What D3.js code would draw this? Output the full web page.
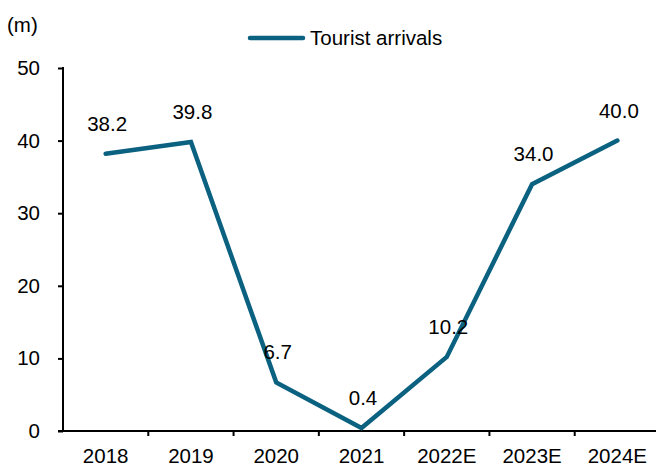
<!DOCTYPE html>
<html><head><meta charset="utf-8">
<script src="https://cdn.jsdelivr.net/npm/d3@7"></script>
<style>body{margin:0;background:#fff}svg{display:block}text{font-family:"Liberation Sans",Arial,sans-serif;fill:#000}</style>
</head><body>
<script>
const categories = ["2018","2019","2020","2021","2022E","2023E","2024E"];
const arrivals = [38.2, 39.8, 6.7, 0.4, 10.2, 34.0, 40.0];
const yTicks = [0,10,20,30,40,50];
const seriesName = "Tourist arrivals";
const unitLabel = "(m)";

const W=656,H=467, color="#0b6180", fs="20.5px";
const svg=d3.select("body").append("svg").attr("width",W).attr("height",H);
const x=d3.scaleBand().domain(categories).range([63,660]);
const y=d3.scaleLinear().domain([0,50]).range([431,68]);

const yAxis=svg.append("g").attr("transform","translate(63,0)")
  .call(d3.axisLeft(y).tickValues(yTicks).tickSize(5).tickPadding(18));
const xAxis=svg.append("g").attr("transform","translate(0,431)")
  .call(d3.axisBottom(x).tickSize(0).tickPadding(17));
svg.append("g").selectAll("line").data(categories.slice(1)).join("line")
  .attr("x1",d=>x(d)).attr("x2",d=>x(d)).attr("y1",431).attr("y2",436)
  .attr("stroke","#000").attr("stroke-width",2);
[yAxis,xAxis].forEach(g=>{
  g.selectAll(".domain,line").attr("stroke","#000").attr("stroke-width",2);
  g.selectAll("text").style("font-size",fs).attr("fill","#000");
});
xAxis.select(".domain").attr("d","M58,0H660");
yAxis.select(".domain").attr("d","M0,67V432");

const cx=d=>x(d)+x.bandwidth()/2;
svg.append("path").datum(categories.map((c,i)=>[cx(c),y(arrivals[i])]))
  .attr("d",d3.line()).attr("fill","none").attr("stroke",color)
  .attr("stroke-width",4.5).attr("stroke-linejoin","miter").attr("stroke-linecap","round");

svg.append("g").selectAll("text").data(categories).join("text")
  .attr("x",d=>cx(d)+1.5).attr("y",(d,i)=>y(arrivals[i])-23)
  .attr("text-anchor","middle").style("font-size",fs)
  .text((d,i)=>arrivals[i].toFixed(1));

svg.append("text").attr("x",7).attr("y",32).style("font-size",fs).text(unitLabel);
svg.append("line").attr("x1",250).attr("x2",303).attr("y1",38).attr("y2",38)
  .attr("stroke",color).attr("stroke-width",4.5).attr("stroke-linecap","round");
svg.append("text").attr("x",310).attr("y",45).style("font-size",fs).text(seriesName);
</script>
</body></html>
